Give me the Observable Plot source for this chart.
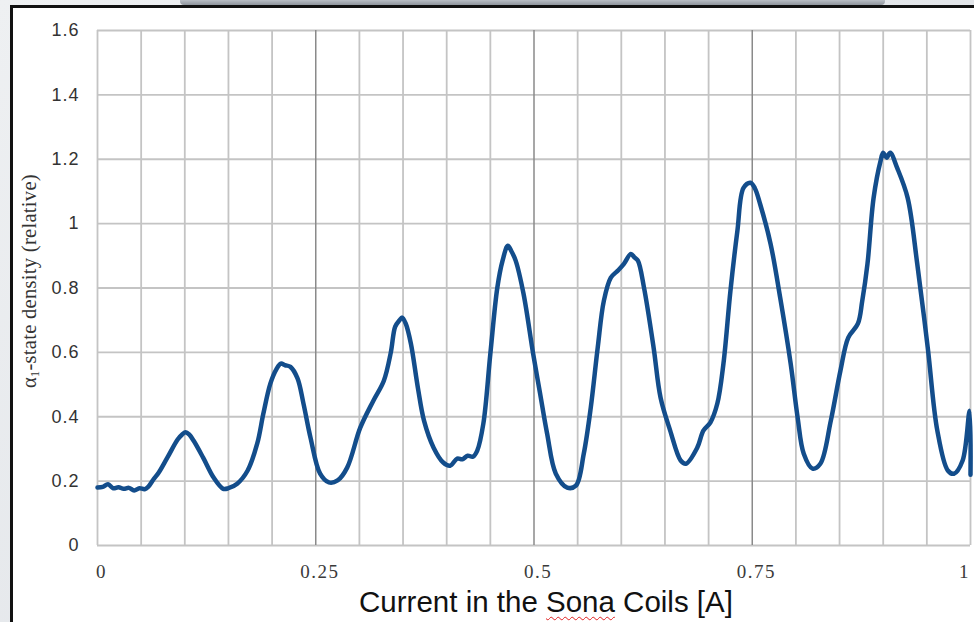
<!DOCTYPE html>
<html>
<head>
<meta charset="utf-8">
<script src="https://cdn.jsdelivr.net/npm/d3@7"></script>
<script src="https://cdn.jsdelivr.net/npm/@observablehq/plot@0.6"></script>
<style>
  html, body { margin: 0; padding: 0; width: 974px; height: 622px; overflow: hidden; }
  body { background: linear-gradient(135deg, #eef0f2 0%, #e2e5e9 60%, #eceef0 100%); position: relative; }
  #topbar { position: absolute; left: 180px; top: 0; width: 705px; height: 5px;
            background: linear-gradient(#b9bec5, #8f959d); border-radius: 0 0 4px 4px; }
  #panel { position: absolute; left: 10px; top: 5px; width: 980px; height: 640px;
           background: #fff; border-left: 3px solid #111; border-top: 3px solid #111; }
  #chart { position: absolute; left: 0; top: 0; }
  #ytitle { position: absolute; left: 29px; top: 281px; transform: translate(-50%, -50%) rotate(-90deg);
            font-family: "Liberation Serif", "Times New Roman", serif; font-size: 20.5px; color: #333;
            white-space: nowrap; letter-spacing: 0.3px; }
  #ytitle sub { font-size: 12px; vertical-align: -3px; line-height: 0; }
  #xtitle { position: absolute; left: 546px; top: 585px; transform: translateX(-50%);
            font-family: "Liberation Sans", Arial, sans-serif; font-size: 29.5px; color: #111;
            white-space: nowrap; line-height: 34px; }
  #xtitle .sp { text-decoration: underline wavy #e02020; text-decoration-thickness: 1px; text-underline-offset: 4px; }
</style>
</head>
<body>
<div id="topbar"></div>
<div id="panel"></div>
<div id="chart"></div>
<div id="ytitle">α<sub>1</sub>-state density (relative)</div>
<div id="xtitle">Current in the <span class="sp">Sona</span> Coils [A]</div>
<script>
// Sona coil current (A)
const current = [
  0, 0.006, 0.012, 0.018, 0.024, 0.030, 0.036, 0.042, 0.048, 0.054, 0.058,
  0.064, 0.070, 0.080, 0.092, 0.097, 0.101, 0.105, 0.110, 0.121, 0.133, 0.144, 0.150,
  0.160, 0.172, 0.183, 0.190, 0.198, 0.205, 0.210, 0.215, 0.221, 0.229, 0.236, 0.244,
  0.255, 0.265, 0.275, 0.286, 0.301, 0.316, 0.328, 0.336, 0.341, 0.346, 0.349, 0.353,
  0.359, 0.367, 0.374, 0.385, 0.396, 0.404, 0.412, 0.418, 0.424, 0.430, 0.435, 0.442,
  0.450, 0.458, 0.464, 0.470, 0.474, 0.479, 0.488, 0.499, 0.507, 0.515, 0.525, 0.538,
  0.548, 0.557, 0.565, 0.573, 0.580, 0.588, 0.596, 0.603, 0.611, 0.615, 0.619, 0.626,
  0.637, 0.645, 0.656, 0.668, 0.674, 0.687, 0.694, 0.702, 0.710, 0.717, 0.725, 0.733,
  0.740, 0.748, 0.753, 0.759, 0.771, 0.782, 0.794, 0.802, 0.809, 0.819, 0.828, 0.840,
  0.851, 0.860, 0.871, 0.876, 0.882, 0.889, 0.897, 0.900, 0.904, 0.908, 0.916, 0.928,
  0.939, 0.951, 0.962, 0.974, 0.981, 0.991, 0.999, 1.000
];
// alpha1-state density (relative)
const density = [
  0.180, 0.182, 0.190, 0.178, 0.181, 0.176, 0.179, 0.171, 0.178, 0.175, 0.182,
  0.205, 0.226, 0.273, 0.330, 0.345, 0.352, 0.345, 0.326, 0.273, 0.211, 0.176, 0.178,
  0.192, 0.233, 0.317, 0.410, 0.503, 0.548, 0.565, 0.560, 0.555, 0.520, 0.440, 0.335,
  0.223, 0.196, 0.202, 0.242, 0.366, 0.450, 0.512, 0.600, 0.680, 0.700, 0.708, 0.690,
  0.627, 0.490, 0.388, 0.304, 0.258, 0.248, 0.270, 0.268, 0.279, 0.276, 0.295, 0.379,
  0.596, 0.801, 0.885, 0.931, 0.915, 0.885, 0.782, 0.596, 0.472, 0.348, 0.223, 0.180,
  0.186, 0.285, 0.428, 0.615, 0.760, 0.832, 0.854, 0.875, 0.906, 0.895, 0.885, 0.801,
  0.615, 0.459, 0.357, 0.264, 0.254, 0.304, 0.357, 0.382, 0.441, 0.565, 0.791, 0.978,
  1.111, 1.127, 1.110, 1.061, 0.937, 0.770, 0.565, 0.397, 0.285, 0.239, 0.254, 0.388,
  0.543, 0.646, 0.689, 0.760, 0.875, 1.080, 1.195, 1.220, 1.205, 1.220, 1.173, 1.080,
  0.875, 0.615, 0.357, 0.233, 0.223, 0.264, 0.419, 0.220
];
const xTicks = [0, 0.25, 0.5, 0.75];
const xTickLabels = ["0", "0.25", "0.5", "0.75"];
const xEndTick = [1];
const xEndLabel = ["1"];
const xGrid = [0, 0.05, 0.1, 0.15, 0.2, 0.3, 0.35, 0.4, 0.45, 0.55, 0.6, 0.65, 0.7, 0.8, 0.85, 0.9, 0.95, 1];
const xMajorGrid = [0.25, 0.5, 0.75];
const yTicks = [0, 0.2, 0.4, 0.6, 0.8, 1, 1.2, 1.4, 1.6];
const yTickLabels = ["0", "0.2", "0.4", "0.6", "0.8", "1", "1.2", "1.4", "1.6"];

const data = current.map((c, i) => ({current: c, density: density[i]}));

const xAxisStyle = {
  tickSize: 0, tickPadding: 19, label: null,
  fontSize: 19, fontFamily: "Liberation Serif, Times New Roman, serif", fill: "#3a3a3a"
};

const chart = Plot.plot({
  width: 974,
  height: 590,
  marginLeft: 97,
  marginRight: 4,
  marginTop: 30,
  marginBottom: 45,
  style: {background: "transparent", overflow: "visible"},
  x: {domain: [0, 1]},
  y: {domain: [0, 1.6]},
  marks: [
    Plot.gridX(xGrid, {stroke: "#c4c4c4", strokeOpacity: 1, strokeWidth: 1.8}),
    Plot.gridY(yTicks, {stroke: "#c4c4c4", strokeOpacity: 1, strokeWidth: 1.8}),
    Plot.gridX(xMajorGrid, {stroke: "#8a8a8a", strokeOpacity: 1, strokeWidth: 1.5}),
    Plot.axisY(yTicks, {
      tickSize: 0, tickPadding: 18, label: null,
      tickFormat: (d, i) => yTickLabels[i],
      fontSize: 18, fontFamily: "Liberation Sans, Arial, sans-serif", fill: "#333"
    }),
    Plot.axisX(xTicks, {...xAxisStyle, dx: 4, tickFormat: (d, i) => xTickLabels[i]}),
    Plot.axisX(xEndTick, {...xAxisStyle, dx: -6, tickFormat: (d, i) => xEndLabel[i]}),
    Plot.line(data, {
      x: "current", y: "density", curve: "catmull-rom",
      stroke: "#134d8b", strokeWidth: 4.5, strokeLinejoin: "round", strokeLinecap: "round"
    })
  ]
});
d3.select(chart).selectAll("g[aria-label='x-axis tick label'] text").style("letter-spacing", "1.5px");
d3.select(chart).selectAll("g[aria-label='y-axis tick label'] text").style("letter-spacing", "1px");
document.getElementById("chart").appendChild(chart);
</script>
</body>
</html>
